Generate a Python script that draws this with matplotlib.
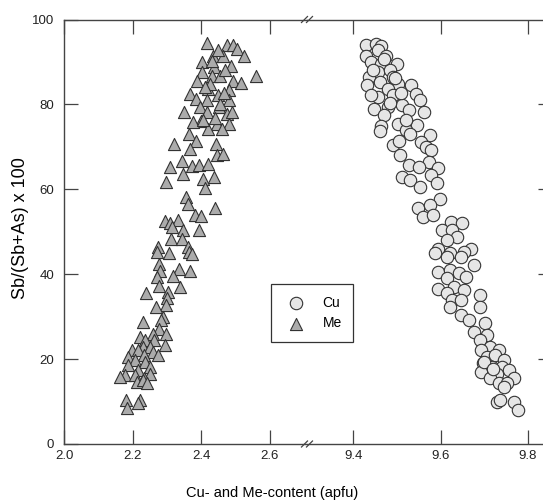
import matplotlib.pyplot as plt
from matplotlib.lines import Line2D

plt.rcParams['font.family'] = ['Liberation Sans', 'DejaVu Sans']

# Me (triangles)
me_x = [2.417, 2.475, 2.493, 2.503, 2.525, 2.433, 2.464, 2.402, 2.437, 2.487,
        2.402, 2.387, 2.431, 2.455, 2.493, 2.558, 2.515, 2.367, 2.384, 2.419,
        2.449, 2.480, 2.417, 2.480, 2.397, 2.452, 2.350, 2.416, 2.475, 2.399,
        2.377, 2.445, 2.480, 2.419, 2.459, 2.364, 2.386, 2.321, 2.444, 2.367,
        2.447, 2.464, 2.345, 2.308, 2.374, 2.394, 2.419, 2.348, 2.404, 2.436,
        2.296, 2.412, 2.355, 2.361, 2.439, 2.382, 2.399, 2.293, 2.308, 2.333,
        2.316, 2.348, 2.394, 2.311, 2.343, 2.273, 2.362, 2.271, 2.305, 2.364,
        2.374, 2.277, 2.335, 2.367, 2.280, 2.318, 2.270, 2.338, 2.277, 2.303,
        2.240, 2.300, 2.297, 2.268, 2.288, 2.283, 2.229, 2.276, 2.258, 2.297,
        2.222, 2.237, 2.262, 2.293, 2.230, 2.250, 2.197, 2.217, 2.258, 2.187,
        2.232, 2.273, 2.207, 2.237, 2.187, 2.250, 2.217, 2.177, 2.162, 2.207,
        2.250, 2.232, 2.212, 2.230, 2.242, 2.182, 2.222, 2.217, 2.184,
        2.425, 2.470, 2.455, 2.440, 2.410, 2.466, 2.430, 2.490, 2.405, 2.450]
me_y = [94.4, 93.9, 94.1, 93.1, 91.3, 91.5, 91.5, 90.0, 88.8, 89.0,
        87.6, 85.4, 86.6, 86.8, 85.6, 86.6, 85.0, 82.5, 81.3, 83.7,
        82.1, 83.3, 81.1, 81.0, 79.5, 79.5, 78.2, 78.2, 77.8, 76.2,
        75.8, 75.5, 75.5, 74.3, 74.3, 73.1, 71.4, 70.6, 70.6, 69.6,
        68.0, 68.2, 66.7, 65.3, 65.5, 65.7, 65.9, 63.7, 62.5, 62.9,
        61.7, 60.4, 58.2, 56.5, 55.7, 53.9, 53.6, 52.6, 52.1, 52.7,
        51.1, 50.5, 50.4, 48.4, 48.4, 46.4, 46.4, 45.3, 44.9, 45.3,
        44.7, 42.5, 41.3, 40.8, 40.8, 39.5, 39.4, 37.0, 37.2, 35.8,
        35.5, 34.3, 32.7, 32.3, 30.0, 29.2, 28.8, 27.2, 26.0, 26.0,
        25.3, 24.5, 24.5, 23.3, 22.9, 22.9, 22.1, 22.1, 21.7, 20.6,
        21.0, 21.0, 19.8, 19.4, 18.6, 18.2, 17.4, 16.2, 15.8, 16.2,
        16.6, 15.5, 14.7, 15.1, 14.3, 10.4, 10.4, 9.6, 8.4,
        84.7, 88.2, 80.0, 76.8, 84.2, 82.8, 90.2, 78.3, 76.3, 92.7]

# Cu (circles)
cu_x = [9.430, 9.452, 9.464, 9.456, 9.430, 9.475, 9.440, 9.464, 9.499, 9.456,
        9.483, 9.436, 9.490, 9.460, 9.432, 9.503, 9.533, 9.480, 9.543, 9.491,
        9.456, 9.553, 9.511, 9.448, 9.480, 9.527, 9.562, 9.471, 9.503, 9.464,
        9.546, 9.521, 9.460, 9.530, 9.575, 9.555, 9.490, 9.567, 9.578, 9.507,
        9.574, 9.527, 9.594, 9.551, 9.577, 9.511, 9.530, 9.592, 9.553, 9.598,
        9.549, 9.575, 9.559, 9.582, 9.624, 9.649, 9.602, 9.626, 9.638, 9.614,
        9.594, 9.670, 9.586, 9.621, 9.653, 9.614, 9.646, 9.677, 9.594, 9.621,
        9.642, 9.614, 9.658, 9.593, 9.630, 9.614, 9.653, 9.689, 9.626, 9.646,
        9.621, 9.689, 9.646, 9.665, 9.701, 9.677, 9.705, 9.689, 9.713, 9.733,
        9.693, 9.705, 9.725, 9.745, 9.697, 9.717, 9.741, 9.757, 9.693, 9.729,
        9.768, 9.713, 9.733, 9.752, 9.745, 9.729, 9.737, 9.768, 9.777,
        9.445, 9.470, 9.495, 9.510, 9.440, 9.520, 9.485, 9.505, 9.700, 9.720]
cu_y = [93.9, 94.3, 93.7, 92.7, 91.5, 91.5, 90.0, 89.6, 89.6, 87.6,
        88.0, 86.4, 86.4, 85.3, 84.5, 84.9, 84.5, 83.7, 82.5, 82.1,
        81.7, 81.0, 79.8, 79.0, 79.4, 78.6, 78.2, 77.4, 75.5, 74.8,
        75.1, 73.9, 73.7, 73.1, 72.7, 71.1, 70.4, 70.0, 69.2, 68.0,
        66.4, 65.7, 64.9, 65.3, 63.3, 62.9, 62.1, 61.5, 60.5, 57.8,
        55.5, 56.2, 53.5, 53.9, 52.3, 52.1, 50.4, 50.4, 48.8, 48.0,
        46.0, 46.0, 44.9, 44.9, 45.3, 44.1, 44.1, 42.1, 40.6, 41.0,
        40.2, 39.0, 39.4, 36.6, 37.0, 35.5, 36.2, 35.1, 33.9, 33.9,
        32.3, 32.2, 30.4, 29.2, 28.4, 26.4, 25.6, 24.5, 22.9, 22.1,
        22.1, 20.6, 21.0, 19.8, 19.0, 18.2, 18.2, 17.4, 17.0, 16.6,
        15.5, 15.5, 14.3, 14.3, 13.5, 10.0, 10.4, 10.0, 8.0,
        88.2, 90.7, 86.2, 82.8, 82.3, 76.3, 80.3, 71.3, 19.2, 17.7]

left_ticks = [2.0, 2.2, 2.4, 2.6]
right_ticks = [9.4, 9.6, 9.8]
y_ticks = [0, 20, 40, 60, 80, 100]

W, H = 543, 501
fig = plt.figure(figsize=(W / 100, H / 100), dpi=100)
x_left, x_brk, x_right = 64, 307, 544
y_bot, y_top = 444, 19.5
b = 1 - y_bot / H
h = (y_bot - y_top) / H
ax1 = fig.add_axes([x_left / W, b, (x_brk - x_left) / W, h])
ax2 = fig.add_axes([x_brk / W, b, (x_right - x_brk) / W, h])

spine_c = '#444444'
for ax in (ax1, ax2):
    for s in ax.spines.values():
        s.set_color(spine_c)
        s.set_linewidth(1.0)
    ax.set_ylim(0, 100)
    ax.tick_params(direction='in', length=10, width=0.9, color=spine_c,
                   labelsize=9.5, labelcolor='#222222', top=True, pad=4)
    ax.tick_params(axis='y', pad=7)

ax1.spines['right'].set_visible(False)
ax2.spines['left'].set_visible(False)
ax1.set_xlim(2.0, 2.708)
ax2.set_xlim(9.294, 9.8366)
ax1.set_xticks(left_ticks)
ax1.set_xticklabels([f'{t:.1f}' for t in left_ticks])
ax2.set_xticks(right_ticks)
ax2.set_xticklabels([f'{t:.1f}' for t in right_ticks])
ax1.set_yticks(y_ticks)
ax1.tick_params(axis='y', right=False)
ax2.set_yticks(y_ticks[1:-1])
ax2.tick_params(axis='y', left=False, right=True, labelleft=False, length=4.5)

h_me = ax1.scatter(me_x, me_y, marker='^', s=76, facecolor='#ababab',
                   edgecolor='#333333', linewidth=0.8, zorder=3, clip_on=False)
h_cu = ax2.scatter(cu_x, cu_y, marker='o', s=80, facecolor='#e6e6e6',
                   edgecolor='#333333', linewidth=0.8, zorder=3, clip_on=False)

# break marks on the x axis
for yb in (y_bot, y_top):
    for dx in (-5.5, -0.5):
        x0 = (x_brk + dx) / W
        fig.add_artist(Line2D([x0, x0 + 6 / W],
                              [1 - (yb + 3) / H, 1 - (yb - 3) / H],
                              color=spine_c, lw=0.9))

fig.text(21 / W, 1 - 228 / H, 'Sb/(Sb+As) x 100', rotation=90, ha='center',
         va='center', fontsize=13)
fig.text(272 / W, 1 - 497 / H, 'Cu- and Me-content (apfu)', ha='center',
         va='baseline', fontsize=10.5)

leg = fig.legend([h_cu, h_me], ['Cu', 'Me'], loc='center',
                 bbox_to_anchor=(312 / W, 1 - 313 / H), fontsize=10,
                 frameon=True, fancybox=False, edgecolor='black', borderpad=0.8,
                 handletextpad=0.9, labelspacing=0.5, borderaxespad=0)
leg.get_frame().set_linewidth(0.9)

fig.savefig('out.png', dpi=100)
